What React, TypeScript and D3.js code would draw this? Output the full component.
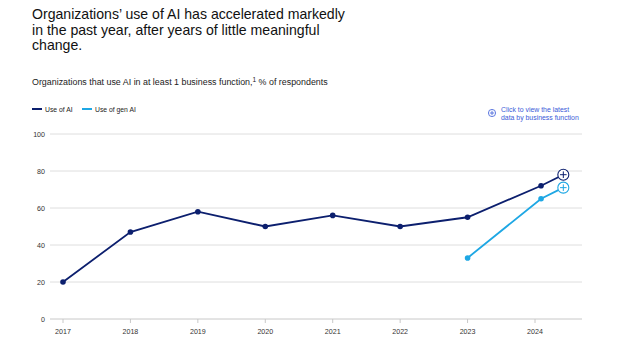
import React from "react";
import * as d3 from "d3";

const years = [2017, 2018, 2019, 2020, 2021, 2022, 2023, 2024];
const aiX = [2017, 2018, 2019, 2020, 2021, 2022, 2023, 2024.09, 2024.42];
const aiValues = [20, 47, 58, 50, 56, 50, 55, 72, 78];
const genX = [2023, 2024.09, 2024.42];
const genValues = [33, 65, 71];
const yTicks = [0, 20, 40, 60, 80, 100];

const DARK = "#0c1f6e";
const LIGHT = "#1ea7e4";
const FONT = "Liberation Sans, Arial, sans-serif";

export default function App() {
  const W = 624, H = 344;
  const x = d3.scaleLinear().domain([2017, 2024]).range([63, 535]);
  const y = d3.scaleLinear().domain([0, 100]).range([319, 134]);
  const gridX0 = 50, gridX1 = 582;

  const aiPts = aiX.map((v, i) => [x(v), y(aiValues[i])] as [number, number]);
  const genPts = genX.map((v, i) => [x(v), y(genValues[i])] as [number, number]);
  const line = d3.line();

  const endMarker = (p: [number, number], color: string) => (
    <g>
      <circle cx={p[0]} cy={p[1]} r={5.5} fill="#fff" stroke={color} strokeWidth={1.1} />
      <line x1={p[0] - 3.3} x2={p[0] + 3.3} y1={p[1]} y2={p[1]} stroke={color} strokeWidth={1} />
      <line x1={p[0]} x2={p[0]} y1={p[1] - 3.3} y2={p[1] + 3.3} stroke={color} strokeWidth={1} />
    </g>
  );

  return (
    <svg width={W} height={H} style={{ position: "absolute", left: 0, top: 0, background: "#fff" }} fontFamily={FONT}>
      <text x={32} y={19} fontSize={14.1} fill="#111">Organizations’ use of AI has accelerated markedly</text>
      <text x={32} y={34.5} fontSize={14.1} fill="#111">in the past year, after years of little meaningful</text>
      <text x={32} y={50} fontSize={14.1} fill="#111">change.</text>

      <text x={32} y={85} fontSize={8.9} fill="#222">
        Organizations that use AI in at least 1 business function,
        <tspan dy={-3.5} fontSize={6.5}>1</tspan>
        <tspan dy={3.5}> % of respondents</tspan>
      </text>

      {/* legend */}
      <line x1={32} x2={42} y1={109} y2={109} stroke={DARK} strokeWidth={2} />
      <text x={45} y={111.5} fontSize={6.8} fill="#222">Use of AI</text>
      <line x1={82} x2={92} y1={109} y2={109} stroke={LIGHT} strokeWidth={2} />
      <text x={95} y={111.5} fontSize={6.8} fill="#222">Use of gen AI</text>

      {/* click note */}
      <circle cx={492} cy={113} r={3.6} fill="none" stroke="#3a5ad8" strokeWidth={0.8} />
      <line x1={489.8} x2={494.2} y1={113} y2={113} stroke="#3a5ad8" strokeWidth={0.8} />
      <line x1={492} x2={492} y1={110.8} y2={115.2} stroke="#3a5ad8" strokeWidth={0.8} />
      <text x={501} y={112} fontSize={6.9} fill="#3a5ad8">Click to view the latest</text>
      <text x={501} y={120} fontSize={6.9} fill="#3a5ad8">data by business function</text>

      {/* grid */}
      {yTicks.map((t) => (
        <g key={t}>
          <line x1={gridX0} x2={gridX1} y1={y(t)} y2={y(t)} stroke={t === 0 ? "#c8c8c8" : "#dedede"} strokeWidth={1} />
          <text x={45} y={y(t) + 2.5} fontSize={7.1} fill="#333" textAnchor="end">{t}</text>
        </g>
      ))}
      {years.map((yr) => (
        <g key={yr}>
          <line x1={x(yr)} x2={x(yr)} y1={319} y2={323} stroke="#c8c8c8" strokeWidth={1} />
          <text x={x(yr)} y={334} fontSize={7.1} fill="#333" textAnchor="middle">{yr}</text>
        </g>
      ))}

      {/* lines */}
      <path d={line(aiPts) || ""} fill="none" stroke={DARK} strokeWidth={1.8} />
      <path d={line(genPts) || ""} fill="none" stroke={LIGHT} strokeWidth={1.8} />
      {aiPts.slice(0, -1).map((p, i) => (
        <circle key={"a" + i} cx={p[0]} cy={p[1]} r={2.8} fill={DARK} />
      ))}
      {genPts.slice(0, -1).map((p, i) => (
        <circle key={"g" + i} cx={p[0]} cy={p[1]} r={2.8} fill={LIGHT} />
      ))}
      {endMarker(aiPts[aiPts.length - 1], DARK)}
      {endMarker(genPts[genPts.length - 1], LIGHT)}
    </svg>
  );
}
